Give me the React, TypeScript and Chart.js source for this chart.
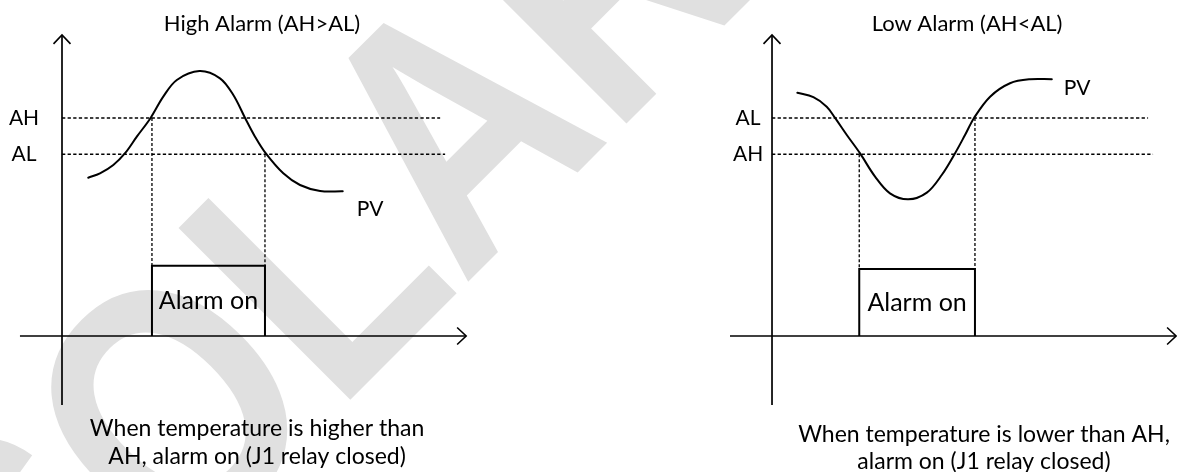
import React, { useEffect, useRef } from "react";
import { Chart, registerables } from "chart.js";

Chart.register(...registerables);

// ---- data (time units along the horizontal axis, temperature units on the vertical axis) ----
const HIGH_TIME = [1.16, 1.68, 2.27, 2.79, 3.31, 3.92, 4.48, 5.08, 6.08, 6.99, 7.58, 8.1, 8.54, 9.01, 9.79, 10.53, 11.42, 12.42];
const HIGH_PV = [8.71, 8.95, 9.41, 10.06, 10.97, 12.0, 13.17, 14.09, 14.58, 14.18, 13.26, 12.0, 10.97, 10.06, 8.95, 8.31, 7.98, 7.96];
const LOW_TIME = [1.12, 1.83, 2.42, 2.79, 3.31, 3.89, 4.56, 5.22, 6.03, 6.85, 7.51, 8.1, 8.54, 8.94, 9.65, 10.53, 11.42, 12.38];
const LOW_PV = [13.39, 13.14, 12.62, 12.0, 11.06, 10.06, 8.77, 7.85, 7.52, 7.89, 8.86, 10.06, 11.06, 12.0, 13.17, 13.91, 14.13, 14.13];

const HIGH_LEVELS = [12, 10]; // [AH, AL]
const LOW_LEVELS = [10, 12]; // [AH, AL]
const LEVEL_NAMES = ["AH", "AL"];
const HIGH_LEVEL_ENDS = [16.73, 16.95];
const LOW_LEVEL_ENDS = [16.86, 16.64];

const HIGH_ALARM = [3.98, 8.98]; // alarm on / off time
const LOW_ALARM = [3.86, 8.98];
const ALARM_ON_VALUE = [3.87, 3.69]; // high, low
const ALARM_TEXT = "Alarm on";

const TIME_AXIS = [-1.86, 17.88];
const VALUE_AXIS = [-3.8, 16.57];

const TITLES = ["High Alarm (AH>AL)", "Low Alarm (AH<AL)"];
const CAPTIONS = [
  ["When temperature is higher than", "AH, alarm on (J1 relay closed)"],
  ["When temperature is lower than AH,", "alarm on (J1 relay closed)"],
];
const PV_NAME = "PV";
const WATERMARK = "SOLAR";

type Panel = {
  axis: string;
  time: number[];
  pv: number[];
  levels: number[];
  levelEnds: number[];
  alarm: number[];
  on: number;
  title: string;
  caption: string[];
  titleAt: [number, number];
  labelT: number;
  pvAt: [number, number];
  captionAt: [number, number, number];
};

const PANELS: Panel[] = [
  {
    axis: "xL",
    time: HIGH_TIME,
    pv: HIGH_PV,
    levels: HIGH_LEVELS,
    levelEnds: HIGH_LEVEL_ENDS,
    alarm: HIGH_ALARM,
    on: ALARM_ON_VALUE[0],
    title: TITLES[0],
    caption: CAPTIONS[0],
    titleAt: [8.85, 17.17],
    labelT: -1.68,
    pvAt: [13.63, 6.99],
    captionAt: [8.63, -5.12, -6.66],
  },
  {
    axis: "xR",
    time: LOW_TIME,
    pv: LOW_PV,
    levels: LOW_LEVELS,
    levelEnds: LOW_LEVEL_ENDS,
    alarm: LOW_ALARM,
    on: ALARM_ON_VALUE[1],
    title: TITLES[1],
    caption: CAPTIONS[1],
    titleAt: [8.63, 17.17],
    labelT: -1.06,
    pvAt: [13.5, 13.65],
    captionAt: [9.38, -5.45, -6.93],
  },
];

const FONT = "Lato, 'Open Sans', sans-serif";

function seg(axis: string, pts: { x: number; y: number }[], extra: any = {}) {
  return {
    data: pts,
    xAxisID: axis,
    yAxisID: "y",
    borderColor: "#000",
    borderWidth: 1.5,
    pointRadius: 0,
    fill: false,
    tension: 0,
    borderCapStyle: "butt",
    ...extra,
  };
}

function buildDatasets() {
  const ds: any[] = [];
  for (const p of PANELS) {
    const [ah, al] = p.levels;
    const [s, e] = p.alarm;
    ds.push(seg(p.axis, [{ x: TIME_AXIS[0], y: 0 }, { x: TIME_AXIS[1], y: 0 }], { borderWidth: 1.7 }));
    ds.push(seg(p.axis, [{ x: 0, y: VALUE_AXIS[0] }, { x: 0, y: VALUE_AXIS[1] }], { borderWidth: 1.7 }));
    p.levels.forEach((lv, i) => {
      ds.push(seg(p.axis, [{ x: 0, y: lv }, { x: p.levelEnds[i], y: lv }], { borderDash: [3.3, 2.3], borderWidth: 1.5 }));
    });
    ds.push(seg(p.axis, [{ x: s, y: ah }, { x: s, y: p.on }], { borderDash: [3, 2], borderWidth: 1.3 }));
    ds.push(seg(p.axis, [{ x: e, y: al }, { x: e, y: p.on }], { borderDash: [3, 2], borderWidth: 1.3 }));
    ds.push(
      seg(p.axis, [
        { x: s, y: 0 },
        { x: s, y: p.on },
        { x: e, y: p.on },
        { x: e, y: 0 },
      ], { borderWidth: 2, borderJoinStyle: "miter" })
    );
    ds.push(
      seg(
        p.axis,
        p.time.map((t, i) => ({ x: t, y: p.pv[i] })),
        { borderWidth: 2, tension: 0.35, borderCapStyle: "round", borderJoinStyle: "round" }
      )
    );
  }
  return ds;
}

const diagramPlugin = {
  id: "diagram",
  beforeDraw(chart: any) {
    const ctx = chart.ctx;
    ctx.save();
    ctx.fillStyle = "#ffffff";
    ctx.fillRect(0, 0, chart.width, chart.height);
    ctx.fillStyle = "#e0e0e0";
    ctx.font = "bold 353px 'Liberation Sans', Arial, sans-serif";
    ctx.translate(463, 287);
    ctx.rotate(-Math.PI / 4);
    ctx.scale(0.83, 1);
    const w = ctx.measureText(WATERMARK.slice(0, 3)).width;
    ctx.textBaseline = "alphabetic";
    ctx.textAlign = "left";
    ctx.fillText(WATERMARK, -w, 0);
    ctx.restore();
  },
  afterDatasetsDraw(chart: any) {
    const ctx = chart.ctx;
    const y = chart.scales.y;
    ctx.save();
    ctx.strokeStyle = "#000";
    ctx.fillStyle = "#000";
    ctx.lineWidth = 1.6;
    ctx.textAlign = "center";
    ctx.textBaseline = "middle";
    for (const p of PANELS) {
      const x = chart.scales[p.axis];
      const X = (t: number) => x.getPixelForValue(t);
      const Y = (v: number) => y.getPixelForValue(v);
      const tipX = X(TIME_AXIS[1]);
      const y0 = Y(0);
      ctx.beginPath();
      ctx.moveTo(tipX - 9, y0 - 8.5);
      ctx.lineTo(tipX, y0);
      ctx.lineTo(tipX - 9, y0 + 8.5);
      ctx.stroke();
      const x0 = X(0);
      const tipY = Y(VALUE_AXIS[1]);
      ctx.beginPath();
      ctx.moveTo(x0 - 8.5, tipY + 9);
      ctx.lineTo(x0, tipY);
      ctx.lineTo(x0 + 8.5, tipY + 9);
      ctx.stroke();

      ctx.font = `22px ${FONT}`;
      ctx.fillText(p.title, X(p.titleAt[0]), Y(p.titleAt[1]));
      ctx.font = `21px ${FONT}`;
      p.levels.forEach((lv, i) => {
        ctx.fillText(LEVEL_NAMES[i], X(p.labelT), Y(lv));
      });
      ctx.fillText(PV_NAME, X(p.pvAt[0]), Y(p.pvAt[1]));
      ctx.font = `23px ${FONT}`;
      ctx.fillText(p.caption[0], X(p.captionAt[0]), Y(p.captionAt[1]));
      ctx.fillText(p.caption[1], X(p.captionAt[0]), Y(p.captionAt[2]));
      ctx.font = `25px ${FONT}`;
      ctx.fillText(ALARM_TEXT, X((p.alarm[0] + p.alarm[1]) / 2), Y(p.on / 2));
    }
    ctx.restore();
  },
};

export default function App() {
  const ref = useRef<HTMLCanvasElement | null>(null);
  useEffect(() => {
    if (!ref.current) return;
    const chart = new Chart(ref.current, {
      type: "line",
      data: { datasets: buildDatasets() },
      options: {
        animation: false,
        responsive: true,
        maintainAspectRatio: false,
        layout: { padding: 0 },
        plugins: { legend: { display: false }, tooltip: { enabled: false }, title: { display: false } },
        events: [],
        scales: {
          xL: { type: "linear", display: false, min: -2.743, max: 49.33 },
          xR: { type: "linear", display: false, min: -34.16, max: 17.92 },
          y: { type: "linear", display: false, min: -7.485, max: 18.49 },
        },
      } as any,
      plugins: [diagramPlugin],
    });
    return () => chart.destroy();
  }, []);
  return (
    <div style={{ position: "absolute", left: 0, top: 0, width: 1177, height: 472, background: "#fff" }}>
      <canvas ref={ref} />
    </div>
  );
}
